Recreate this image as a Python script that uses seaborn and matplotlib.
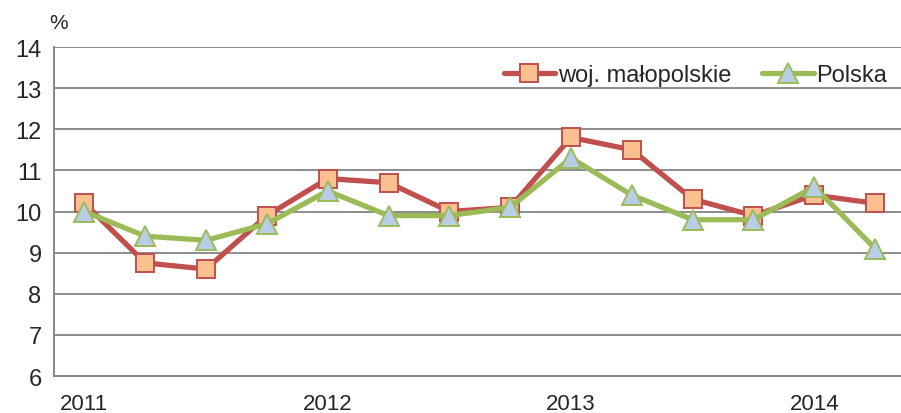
import numpy as np
import pandas as pd
import matplotlib
matplotlib.use("Agg")
import matplotlib.pyplot as plt
import seaborn as sns

# ---- data ----
quarters = ["2011", "", "", "", "2012", "", "", "", "2013", "", "", "", "2014", ""]
malopolskie = [10.2, 8.75, 8.6, 9.9, 10.8, 10.7, 10.0, 10.1, 11.8, 11.5, 10.3, 9.9, 10.4, 10.2]
polska = [10.0, 9.4, 9.3, 9.7, 10.5, 9.9, 9.9, 10.1, 11.3, 10.4, 9.8, 9.8, 10.6, 9.1]
series_names = ["woj. małopolskie", "Polska"]

sns.set_style("white")
plt.rcParams["font.family"] = ["Liberation Sans", "DejaVu Sans"]

df = pd.DataFrame({
    "pos": list(range(len(quarters))) * 2,
    "value": malopolskie + polska,
    "series": [series_names[0]] * len(quarters) + [series_names[1]] * len(quarters),
})

fig = plt.figure(figsize=(9.01, 4.14), dpi=100)
ax = fig.add_axes([54 / 901, 1 - 377 / 414, 1 - 54 / 901 + 0.005, (377 - 48) / 414])

styles = {
    series_names[0]: dict(color="#C0504D", marker="s", mfc="#FAC090", mec="#C0504D", ms=13),
    series_names[1]: dict(color="#9BBB59", marker="^", mfc="#B9CDE5", mec="#9BBB59", ms=14),
}
for name in series_names:
    st = styles[name]
    sub = df[df["series"] == name]
    sns.lineplot(data=sub, x="pos", y="value", ax=ax, color=st["color"], lw=3.8,
                 marker=st["marker"], markerfacecolor=st["mfc"], markeredgecolor=st["mec"],
                 markeredgewidth=1.4, markersize=st["ms"], label=name, zorder=3)

ax.set_xlim(-0.5, len(quarters) - 0.5)
ax.set_ylim(6, 14)
ax.set_yticks(range(6, 15))
ax.set_xticks(range(len(quarters)))
ax.set_xticklabels(quarters)
ax.set_xticks(np.arange(-0.5, len(quarters), 1.0), minor=True)
ax.tick_params(axis="x", which="major", length=0, pad=12, labelsize=16)
ax.tick_params(axis="x", which="minor", length=7, width=1.2, color="#868686", direction="out")
ax.tick_params(axis="y", length=6, width=1.2, color="#868686", labelsize=17, pad=3)
ax.set_xlabel("")
ax.set_ylabel("")

ax.yaxis.grid(True, color="#8c8c8c", lw=1.4)
ax.set_axisbelow(True)
for s in ["top", "right"]:
    ax.spines[s].set_visible(False)
for s in ["left", "bottom"]:
    ax.spines[s].set_color("#868686")
    ax.spines[s].set_linewidth(1.4)

ax.text(-0.005, 1.045, "%", transform=ax.transAxes, fontsize=15, ha="left", va="bottom")

leg = ax.legend(loc="upper right", ncol=2, frameon=False, fontsize=17,
                bbox_to_anchor=(0.995, 0.99), handlelength=2.2, handletextpad=0.1,
                columnspacing=1.3, borderaxespad=0.2)

fig.savefig("out.png", dpi=100)
